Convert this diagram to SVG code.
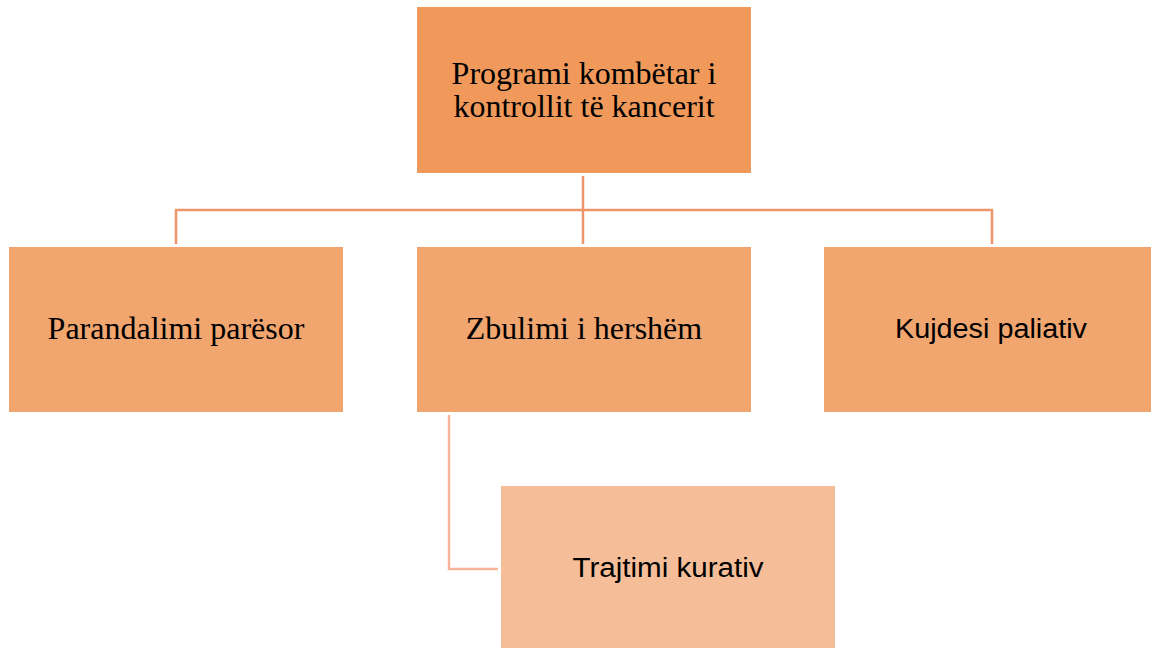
<svg xmlns="http://www.w3.org/2000/svg" width="1153" height="648" viewBox="0 0 1153 648">
<style>
.serif{font-family:"Liberation Serif","Times New Roman",serif;font-size:32px;fill:#000;text-anchor:middle}
.sans{font-family:"Liberation Sans",Arial,sans-serif;font-size:27px;fill:#000;text-anchor:middle}
.conn{fill:none;stroke:#F0946A;stroke-width:2.5}
.conn2{fill:none;stroke:#F6B49B;stroke-width:2.5}
</style>
<rect width="1153" height="648" fill="#fff"/>
<g id="connectors">
<path class="conn" d="M583,176 V244 M176,244 V210 H992 V244"/>
<path class="conn2" d="M449,415 V569 H498"/>
</g>
<g id="n-top">
<rect x="417" y="7" width="334" height="166" fill="#F0995A"/>
<text class="serif" x="584" y="84">Programi kombëtar i</text>
<text class="serif" x="584" y="117">kontrollit të kancerit</text>
</g>
<g id="n-parandalimi">
<rect x="9" y="247" width="334" height="165" fill="#F1A56F"/>
<text class="serif" x="176" y="339">Parandalimi parësor</text>
</g>
<g id="n-zbulimi">
<rect x="417" y="247" width="334" height="165" fill="#F1A56F"/>
<text class="serif" x="584" y="339">Zbulimi i hershëm</text>
</g>
<g id="n-kujdesi">
<rect x="824" y="247" width="327" height="165" fill="#F1A56F"/>
<text class="sans" x="991" y="338" textLength="192" lengthAdjust="spacingAndGlyphs">Kujdesi paliativ</text>
</g>
<g id="n-trajtimi">
<rect x="501" y="486" width="334" height="162" fill="#F5BE98"/>
<text class="sans" x="668" y="577" textLength="191" lengthAdjust="spacingAndGlyphs">Trajtimi kurativ</text>
</g>
</svg>
